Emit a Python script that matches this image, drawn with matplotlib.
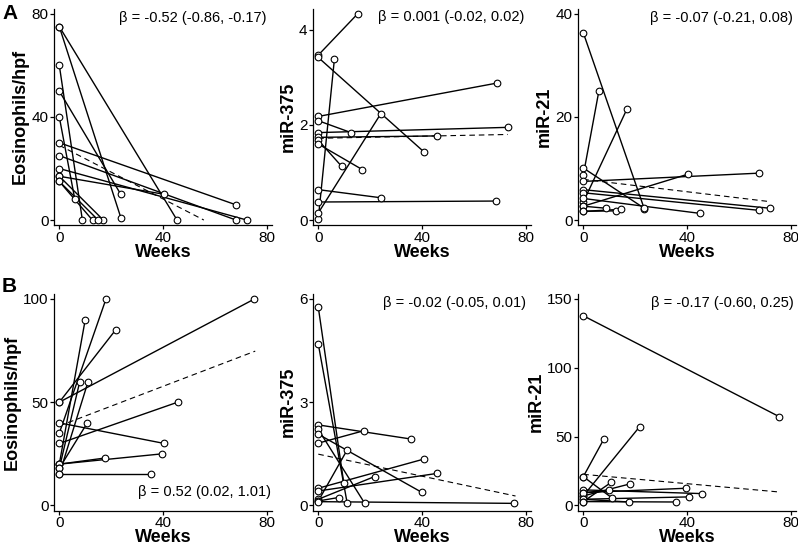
import matplotlib
matplotlib.use('Agg')
import matplotlib.pyplot as plt
import numpy as np

plt.rcParams['font.family'] = ['Liberation Sans', 'DejaVu Sans']

# each line: baseline value at week 0 -> follow-up (week, value)
# row A
a_eos_start = [75, 75, 60, 50, 40, 30, 25, 20, 17, 17, 15, 15]
a_eos_week = [23.7, 45.4, 8.9, 23.7, 6.0, 67.9, 68.2, 72.4, 40.5, 17.0, 12.8, 15.0]
a_eos_end = [1, 0, 0, 10, 8, 6, 0, 0, 10, 0, 0, 0]

a_375_start = [3.47, 3.42, 0.03, 0.15, 2.18, 2.09, 1.84, 1.74, 1.68, 1.60, 0.64, 0.38]
a_375_week = [15.2, 40.8, 6.2, 24.0, 68.7, 12.6, 73.0, 45.6, 9.0, 17.0, 24.0, 68.3]
a_375_end = [4.34, 1.43, 3.38, 2.23, 2.88, 1.84, 1.95, 1.77, 1.13, 1.06, 0.47, 0.40]

a_21_start = [36.3, 10.1, 8.7, 7.5, 5.9, 5.3, 3.5, 4.2, 2.7, 2.7, 1.7, 1.7]
a_21_week = [23.5, 23.5, 6.0, 67.6, 72.0, 67.7, 16.8, 45.1, 40.3, 8.9, 12.5, 14.7]
a_21_end = [2.2, 2.3, 25.0, 9.1, 2.3, 1.9, 21.5, 1.3, 8.9, 2.3, 1.8, 2.1]

# row B
b_eos_start = [50, 50, 40, 35, 30, 20, 20, 20, 18, 18, 15, 15]
b_eos_week = [75.2, 21.7, 40.5, 18.0, 45.6, 10.0, 17.8, 39.7, 7.9, 10.8, 11.1, 35.5]
b_eos_end = [100, 85, 30, 100, 50, 90, 23, 25, 60, 40, 60, 15]

b_375_start = [5.76, 4.69, 2.34, 2.21, 2.07, 1.81, 0.50, 0.42, 0.18, 0.13, 0.13, 0.11]
b_375_week = [9.8, 11.1, 35.7, 17.9, 39.9, 17.5, 40.8, 45.7, 21.7, 11.1, 7.8, 75.6]
b_375_end = [0.66, 0.08, 1.93, 0.06, 0.38, 2.17, 1.35, 0.93, 0.84, 1.61, 0.23, 0.06]

b_21_start = [137.8, 20.9, 20.9, 6.9, 6.9, 11.3, 9.3, 9.3, 4.5, 4.5, 2.8, 2.8]
b_21_week = [75.5, 11.1, 7.9, 21.7, 17.9, 45.7, 39.7, 9.8, 40.7, 17.5, 35.6, 10.8]
b_21_end = [64.5, 5.4, 48.1, 57.2, 15.6, 8.6, 12.5, 11.0, 6.2, 2.5, 2.5, 16.8]

# fitted lines: intercept, slope, last week shown
reg_lines = {
    'a_eos': (29.0, -0.52, 55.7),
    'a_375': (1.72, 0.0011, 73.0),
    'a_21': (7.9, -0.06, 71.5),
    'b_eos': (38.5, 0.48, 75.5),
    'b_375': (1.49, -0.016, 76.0),
    'b_21': (22.6, -0.17, 75.0),
}

beta_text = {
    'a_eos': u'\u03b2 = -0.52 (-0.86, -0.17)',
    'a_375': u'\u03b2 = 0.001 (-0.02, 0.02)',
    'a_21': u'\u03b2 = -0.07 (-0.21, 0.08)',
    'b_eos': u'\u03b2 = 0.52 (0.02, 1.01)',
    'b_375': u'\u03b2 = -0.02 (-0.05, 0.01)',
    'b_21': u'\u03b2 = -0.17 (-0.60, 0.25)',
}

x_ticks = [0, 40, 80]

W, H = 798, 547
fig = plt.figure(figsize=(W / 100, H / 100), dpi=100)

col_left = [54.1, 313.1, 578.1]
col_w = 218.0
row_top = [8.5, 293.8]
row_h = 216.8


def panel(col, row, start, week, end, reg, ylim, yticks, ylabel, beta, beta_xy):
    l = col_left[col] / W
    b = 1 - (row_top[row] + row_h) / H
    ax = fig.add_axes([l, b, col_w / W, row_h / H])
    for s, w, e in zip(start, week, end):
        ax.plot([0, w], [s, e], color='black', lw=1.0, zorder=2)
    a0, slope, xmax = reg
    xr = np.array([0, xmax])
    ax.plot(xr, a0 + slope * xr, color='black', lw=0.8, dashes=(5, 3.5), zorder=1.5)
    xs = np.concatenate([np.zeros(len(start)), week])
    ys = np.concatenate([start, end])
    ax.plot(xs, ys, 'o', ms=4.8, mfc='white', mec='black', mew=0.8, zorder=3)

    ax.set_xlim(-2, 82)
    ax.set_ylim(*ylim)
    ax.set_xticks(x_ticks)
    ax.set_yticks(yticks)
    for sp in ['top', 'right']:
        ax.spines[sp].set_visible(False)
    for sp in ['left', 'bottom']:
        ax.spines[sp].set_linewidth(0.9)
    ax.tick_params(direction='out', length=3, width=0.9, pad=1.0, labelsize=11)
    ax.set_xlabel('Weeks', fontsize=13, fontweight='bold', labelpad=-0.5)
    ax.set_ylabel(ylabel, fontsize=13, fontweight='bold', labelpad=2)
    ax.text(beta_xy[0], beta_xy[1], beta, transform=ax.transAxes,
            ha='right', va='center', fontsize=10.5)
    return ax


panel(0, 0, a_eos_start, a_eos_week, a_eos_end, reg_lines['a_eos'], (-2, 82), [0, 40, 80],
      'Eosinophils/hpf', beta_text['a_eos'], (0.976, 0.956))
panel(1, 0, a_375_start, a_375_week, a_375_end, reg_lines['a_375'], (-0.11, 4.45), [0, 2, 4],
      'miR-375', beta_text['a_375'], (0.967, 0.963))
panel(2, 0, a_21_start, a_21_week, a_21_end, reg_lines['a_21'], (-1, 41), [0, 20, 40],
      'miR-21', beta_text['a_21'], (0.987, 0.956))
panel(0, 1, b_eos_start, b_eos_week, b_eos_end, reg_lines['b_eos'], (-2.5, 102.5), [0, 50, 100],
      'Eosinophils/hpf', beta_text['b_eos'], (0.995, 0.088))
panel(1, 1, b_375_start, b_375_week, b_375_end, reg_lines['b_375'], (-0.15, 6.15), [0, 3, 6],
      'miR-375', beta_text['b_375'], (0.975, 0.956))
panel(2, 1, b_21_start, b_21_week, b_21_end, reg_lines['b_21'], (-3.75, 153.75), [0, 50, 100, 150],
      'miR-21', beta_text['b_21'], (0.987, 0.956))

fig.text(2 / W, 1 - 4 / H, 'A', fontsize=15, fontweight='bold', va='top', ha='left')
fig.text(2 / W, 1 - 277 / H, 'B', fontsize=15, fontweight='bold', va='top', ha='left')

fig.savefig('out.png', dpi=100)
